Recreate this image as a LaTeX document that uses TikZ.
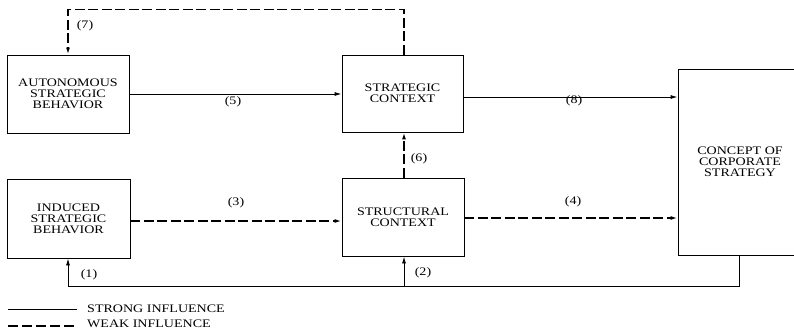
\documentclass[tikz,border=0pt]{standalone}
\usepackage{fontspec}
\setmainfont[FakeStretch=1.22]{Liberation Serif}
\usetikzlibrary{arrows.meta}
\begin{document}
\begin{tikzpicture}[x=1pt,y=-1pt,
  box/.style={draw,line width=0.9pt,align=center,inner sep=0pt,
    font=\fontsize{11.5}{11}\selectfont},
  strong/.style={line width=0.9pt},
  weak/.style={line width=1.6pt,dash pattern=on 10pt off 3.5pt},
  tip/.style={-{Latex[length=7pt,width=4pt]}},
  lbl/.style={font=\fontsize{11.5}{12}\selectfont,inner sep=0pt}]
\useasboundingbox (0,0) rectangle (794,332);
\begin{scope}
\clip (0,0) rectangle (794,332);
% boxes
\node[box,minimum width=122pt,minimum height=78pt] (auto) at (68,94)
  {AUTONOMOUS\\STRATEGIC\\BEHAVIOR};
\node[box,minimum width=121pt,minimum height=77pt] (strat) at (402.5,93.5)
  {STRATEGIC\\CONTEXT};
\node[box,minimum width=123pt,minimum height=79pt] (ind) at (68.5,218.5)
  {INDUCED\\STRATEGIC\\BEHAVIOR};
\node[box,minimum width=122pt,minimum height=78pt] (struct) at (403,217)
  {STRUCTURAL\\CONTEXT};
\node[box,minimum width=124pt,minimum height=186pt] (concept) at (740,162)
  {CONCEPT OF\\CORPORATE\\STRATEGY};
\end{scope}
% corner points of the routed connectors
\coordinate (t7r) at (404,9.5);
\coordinate (t7l) at (68,9.5);
\coordinate (fbr) at (739,286);
\coordinate (fbl) at (68,286);
\coordinate (fbm) at (404,286);
% connectors
\draw[strong,tip] (auto.east) -- (auto.east -| strat.west);
\draw[strong,tip] ([yshift=-3.5pt]strat.east) -- ([yshift=-3.5pt]strat.east -| concept.west);
\draw[weak,tip] ([yshift=-2.5pt]ind.east) -- ([yshift=-2.5pt]ind.east -| struct.west);
\draw[weak,tip] ([yshift=-1pt]struct.east) -- ([yshift=-1pt]struct.east -| concept.west);
\draw[weak,tip] (struct.north -| t7r) -- (strat.south -| t7r);
\draw[weak,tip] (strat.north -| t7r) -- (t7r) -- (t7l) -- (auto.north -| t7l);
\draw[strong,tip] (concept.south -| fbr) -- (fbr) -- (fbl) -- (ind.south -| fbl);
\draw[strong,tip] (fbm) -- (struct.south -| fbm);
% connector labels
\node[lbl] (l5) at (233,102) {(5)};
\node[lbl] (l8) at (574,101) {(8)};
\node[lbl] (l3) at (236,203) {(3)};
\node[lbl] (l4) at (573,202) {(4)};
\node[lbl] (l6) at (419,159) {(6)};
\node[lbl] (l1) at (89,275) {(1)};
\node[lbl] (l2) at (423,273) {(2)};
\node[lbl] (l7) at (85,26) {(7)};
% legend
\coordinate (sa) at (8,309);
\coordinate (sb) at (77,309);
\coordinate (wa) at (8,326);
\coordinate (wb) at (77,326);
\draw[strong] (sa) -- (sb);
\draw[weak,dash pattern=on 10pt off 4pt] (wa) -- (wb);
\node[lbl,anchor=west] (ls) at (87,308.5) {STRONG INFLUENCE};
\node[lbl,anchor=west] (lw) at (87,324) {WEAK INFLUENCE};
\end{tikzpicture}
\end{document}
